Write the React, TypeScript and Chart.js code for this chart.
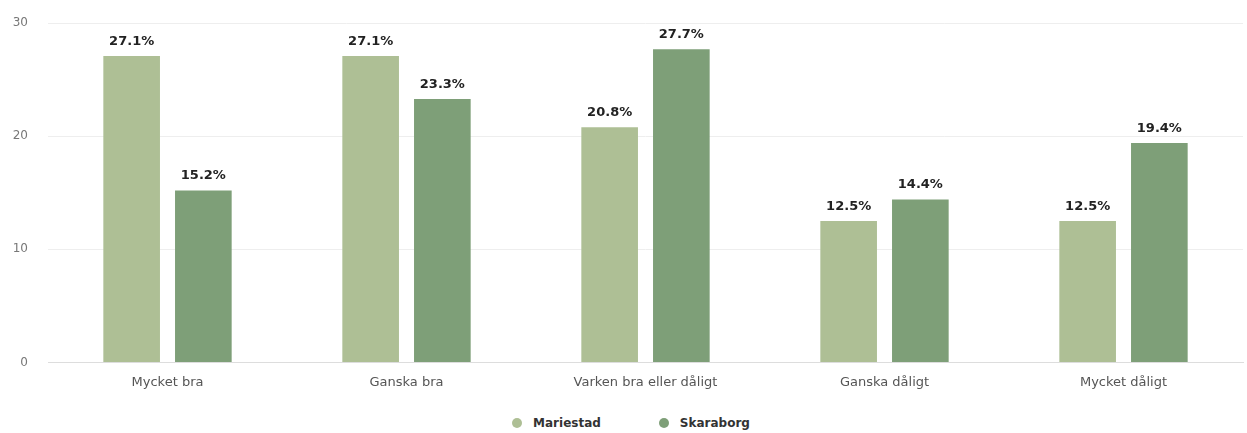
import React, { useEffect, useRef } from "react";
import { Chart, registerables } from "chart.js";

Chart.register(...registerables);

const categories = ["Mycket bra", "Ganska bra", "Varken bra eller dåligt", "Ganska dåligt", "Mycket dåligt"];
const seriesNames = ["Mariestad", "Skaraborg"];
const seriesColors = ["#aebf95", "#7e9f78"];
const mariestad = [27.1, 27.1, 20.8, 12.5, 12.5];
const skaraborg = [15.2, 23.3, 27.7, 14.4, 19.4];
const yTicks = [0, 10, 20, 30];

const FONT = "'DejaVu Sans', sans-serif";

const valueLabels = {
  id: "valueLabels",
  afterDatasetsDraw(chart: any) {
    const ctx = chart.ctx;
    ctx.save();
    ctx.font = `bold 13px ${FONT}`;
    ctx.fillStyle = "#222";
    ctx.textAlign = "center";
    ctx.textBaseline = "bottom";
    chart.data.datasets.forEach((ds: any, i: number) => {
      const meta = chart.getDatasetMeta(i);
      meta.data.forEach((bar: any, j: number) => {
        ctx.fillText(ds.data[j].toFixed(1) + "%", bar.x, bar.y - 8);
      });
    });
    ctx.restore();
  },
};

export default function App() {
  const ref = useRef<HTMLCanvasElement>(null);
  useEffect(() => {
    const chart = new Chart(ref.current!, {
      type: "bar",
      data: {
        labels: categories,
        datasets: [
          { label: seriesNames[0], data: mariestad, backgroundColor: seriesColors[0] },
          { label: seriesNames[1], data: skaraborg, backgroundColor: seriesColors[1] },
        ],
      },
      options: {
        animation: false,
        responsive: true,
        maintainAspectRatio: false,
        datasets: { bar: { categoryPercentage: 0.6, barPercentage: 0.79 } },
        layout: { padding: { top: 1, right: 4, left: 0, bottom: 0 } },
        plugins: {
          legend: { display: false },
          tooltip: { enabled: false },
        },
        scales: {
          x: {
            grid: { display: false },
            border: { display: true, color: "#ddd" },
            ticks: { color: "#555", font: { family: FONT, size: 13 }, padding: 4 },
          },
          y: {
            min: 0,
            max: 30,
            afterBuildTicks: (axis: any) => {
              axis.ticks = yTicks.map((v) => ({ value: v }));
            },
            afterFit: (axis: any) => {
              axis.width = 48;
            },
            grid: { color: "#eeeeee", drawTicks: false },
            border: { display: false },
            ticks: { color: "#777", font: { family: FONT, size: 12 }, padding: 20 },
          },
        },
      },
      plugins: [valueLabels],
    });
    return () => chart.destroy();
  }, []);
  return (
    <div style={{ position: "fixed", left: 0, top: 0, width: 1247, height: 433, overflow: "hidden", background: "#fff" }}>
      <div style={{ position: "absolute", top: -4, left: 0, width: 1247, height: 398 }}>
        <canvas ref={ref} />
      </div>
      <div
        style={{
          position: "absolute",
          top: 414,
          left: 0,
          width: 1262,
          display: "flex",
          justifyContent: "center",
          gap: 58,
          fontFamily: FONT,
          fontSize: 12,
          fontWeight: "bold",
          color: "#333",
          lineHeight: "18px",
        }}
      >
        {seriesNames.map((name, i) => (
          <div key={name} style={{ display: "flex", alignItems: "center", gap: 11 }}>
            <span
              style={{ width: 10, height: 10, borderRadius: "50%", background: seriesColors[i], display: "inline-block" }}
            />
            <span>{name}</span>
          </div>
        ))}
      </div>
    </div>
  );
}
